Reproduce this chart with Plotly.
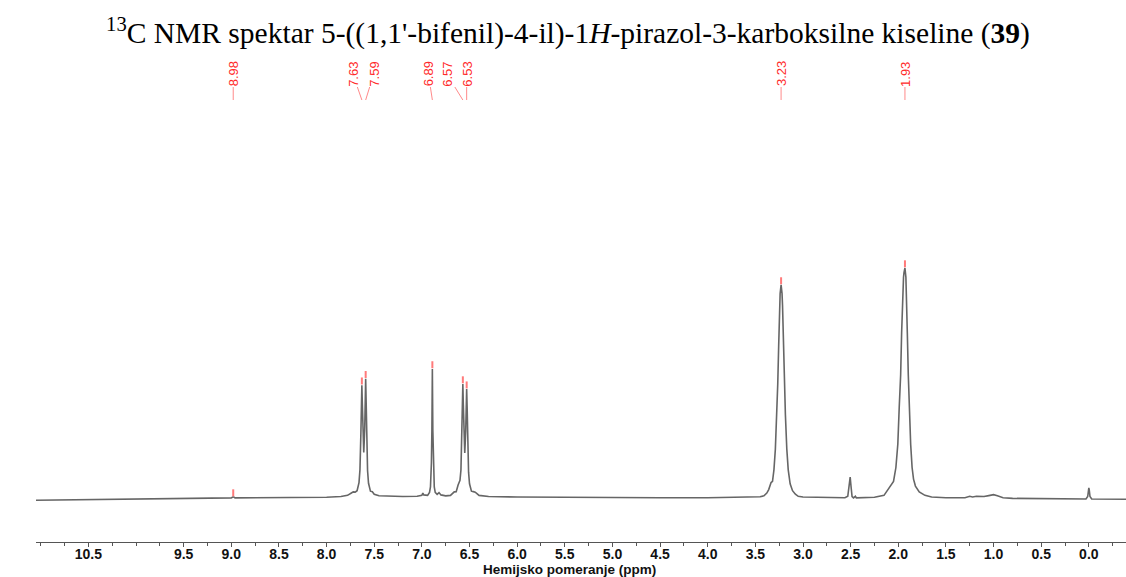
import plotly.graph_objects as go

# ---------------- data ----------------
ppm = [11.05, 10.8, 10.5, 10.2, 10.0, 9.7, 9.5, 9.2, 9.05, 9.0, 8.985, 8.975, 8.96, 8.8, 8.5, 8.2, 8.0,
       7.85, 7.78, 7.74, 7.72, 7.70, 7.68, 7.66, 7.65, 7.64, 7.635, 7.63, 7.625, 7.62, 7.61, 7.60, 7.595,
       7.59, 7.585, 7.58, 7.57, 7.56, 7.54, 7.52, 7.50, 7.45, 7.35, 7.2, 7.05, 7.00, 6.99, 6.98, 6.94,
       6.92, 6.91, 6.90, 6.895, 6.89, 6.885, 6.88, 6.87, 6.86, 6.84, 6.82, 6.80, 6.75, 6.70, 6.66, 6.64,
       6.62, 6.60, 6.59, 6.58, 6.575, 6.57, 6.565, 6.56, 6.55, 6.54, 6.535, 6.53, 6.525, 6.52, 6.51, 6.50,
       6.48, 6.46, 6.44, 6.40, 6.30, 6.0, 5.5, 5.0, 4.5, 4.0, 3.7, 3.6, 3.55, 3.45, 3.41, 3.38, 3.36,
       3.335, 3.32, 3.305, 3.29, 3.275, 3.265, 3.255, 3.245, 3.24, 3.23, 3.22, 3.215, 3.205, 3.195, 3.185,
       3.17, 3.155, 3.135, 3.11, 3.08, 3.05, 3.00, 2.85, 2.7, 2.56, 2.53, 2.515, 2.505, 2.495, 2.485,
       2.47, 2.45, 2.44, 2.35, 2.25, 2.15, 2.11, 2.05, 2.025, 2.005, 1.99, 1.975, 1.965, 1.955, 1.945,
       1.94, 1.93, 1.92, 1.915, 1.905, 1.895, 1.885, 1.87, 1.855, 1.84, 1.82, 1.78, 1.72, 1.65, 1.5, 1.3,
       1.25, 1.22, 1.18, 1.10, 1.05, 1.00, 0.96, 0.9, 0.8, 0.5, 0.2, 0.03, 0.012, 0.005, 0.0, -0.005,
       -0.012, -0.03, -0.2, -0.39]
intensity = [-0.1, 0.0, 0.1, 0.2, 0.3, 0.4, 0.5, 0.7, 0.8, 0.9, 1.3, 1.3, 0.9, 0.9, 1.0, 1.1, 1.2,
             1.5, 2.0, 3.0, 3.5, 3.4, 4.0, 7.5, 13, 29, 43.5, 49.5, 41.5, 29.2, 20.5, 30.5, 43.8,
             52.3, 42.5, 27.5, 12.6, 7.2, 3.8, 3.6, 2.5, 1.8, 1.6, 1.5, 1.6, 2.0, 3.0, 2.2, 2.0,
             3.3, 5.6, 16, 30, 56.5, 30, 16, 5.6, 3.3, 2.4, 3.2, 2.2, 1.8, 2.0, 3.5, 3.6,
             6.5, 8.5, 13, 28.5, 42.5, 50.0, 41, 28.5, 20.3, 29.5, 40.5, 47.8, 40, 26.5, 12, 7,
             3.8, 3.6, 3.4, 2.0, 1.5, 1.3, 1.1, 1.0, 1.0, 1.0, 1.1, 1.4, 1.2, 1.4, 1.8, 3.0, 4.5,
             7.5, 8, 13, 22, 37, 50, 67, 84, 89, 92.7, 89, 84, 67, 50, 37,
             22, 13, 7, 4, 2.5, 1.6, 1.3, 1.1, 1.0, 1.0, 1.6, 5.5, 9.9, 5.5, 1.5,
             0.9, 1.6, 0.9, 0.9, 1.2, 2.0, 4.5, 8, 14, 24, 40, 54, 72, 90, 96,
             98, 100, 96, 90, 72, 54, 40, 24, 14, 9, 6, 3.5, 2, 1.3, 1.0, 1.0,
             1.6, 1.3, 1.6, 1.5, 1.9, 2.3, 1.8, 1.0, 0.7, 0.5, 0.4, 0.4, 1.5, 4.0, 5.2, 4.0,
             1.5, 0.4, 0.3, 0.3]

peak_ppm = [8.98, 7.63, 7.59, 6.89, 6.57, 6.53, 3.23, 1.93]
peak_labels = ["8.98", "7.63", "7.59", "6.89", "6.57", "6.53", "3.23", "1.93"]
peak_height = [1.3, 49.5, 52.3, 56.5, 50.0, 47.8, 92.7, 100]

tick_vals = [10.5, 9.5, 9.0, 8.5, 8.0, 7.5, 7.0, 6.5, 6.0, 5.5, 5.0, 4.5, 4.0, 3.5, 3.0, 2.5, 2.0, 1.5, 1.0, 0.5, 0.0]
tick_text = ["10.5", "9.5", "9.0", "8.5", "8.0", "7.5", "7.0", "6.5", "6.0", "5.5", "5.0", "4.5", "4.0",
             "3.5", "3.0", "2.5", "2.0", "1.5", "1.0", "0.5", "0.0"]

# ---------------- styling ----------------
label_dx = [0, -9, 8, -4, -16, 0, 0, 0]   # pixel spread of the peak labels
RED = "#ff2a2a"
TOP, BOTTOM = 60, 542                      # plot-area pixel rows
PLOT_H = BOTTOM - TOP

fig = go.Figure()
fig.add_trace(go.Scatter(x=ppm, y=intensity, mode="lines",
                         line=dict(color="#666666", width=1.6), hoverinfo="skip"))
fig.add_trace(go.Scatter(x=peak_ppm, y=[h + 1.8 for h in peak_height], mode="markers",
                         marker=dict(symbol="line-ns", size=5, line=dict(color="#ff7a7a", width=2)),
                         hoverinfo="skip"))

for p, t, dx in zip(peak_ppm, peak_labels, label_dx):
    fig.add_annotation(x=p, y=(BOTTOM - 100) / PLOT_H, xref="x", yref="paper", text=t, textangle=-90,
                       showarrow=True, arrowhead=0, arrowwidth=1, arrowcolor="#ff8a8a",
                       ax=dx, ay=-26, font=dict(family="Liberation Sans, Arial", size=13, color=RED),
                       bgcolor="rgba(0,0,0,0)", borderpad=0, standoff=0, startstandoff=0)

fig.add_annotation(x=(569 - 36) / 1090, y=0, xref="paper", yref="paper", yshift=-19, yanchor="top",
                   text="Hemijsko pomeranje (ppm)", showarrow=False, borderpad=0,
                   font=dict(family="Liberation Sans, Arial", size=13.5, color="#111111", weight="bold"))

fig.update_layout(
    width=1126, height=577,
    margin=dict(l=36, r=0, t=TOP, b=577 - BOTTOM),
    paper_bgcolor="white", plot_bgcolor="white",
    showlegend=False,
    title=dict(text="<sup>13</sup>C NMR spektar 5-((1,1'-bifenil)-4-il)-1<i>H</i>-pirazol-3-karboksilne kiseline (<b>39</b>)",
               x=568 / 1126, xref="container", xanchor="center", y=1 - 33 / 577, yanchor="middle", yref="container",
               font=dict(family="Liberation Serif, Times New Roman", size=29.5, color="black")),
    xaxis=dict(range=[11.05, -0.39], showgrid=False, zeroline=False,
               showline=True, linecolor="#555555", linewidth=1,
               tickmode="array", tickvals=tick_vals, ticktext=tick_text,
               ticks="outside", ticklen=4, tickcolor="#555555", ticklabelstandoff=-5,
               minor=dict(tick0=0, dtick=0.25, ticks="outside", ticklen=3, tickcolor="#555555"),
               tickfont=dict(family="Liberation Sans, Arial", size=14, color="#111111", weight="bold")),
    yaxis=dict(range=[-(BOTTOM - 500) / 2.32, (500 - TOP) / 2.32], visible=False,
               showgrid=False, zeroline=False),
)

fig.write_html("out.html", config={"displayModeBar": False},
               post_script="document.body.style.margin='0';document.body.style.padding='0';"
                           "document.body.style.overflow='hidden';")
